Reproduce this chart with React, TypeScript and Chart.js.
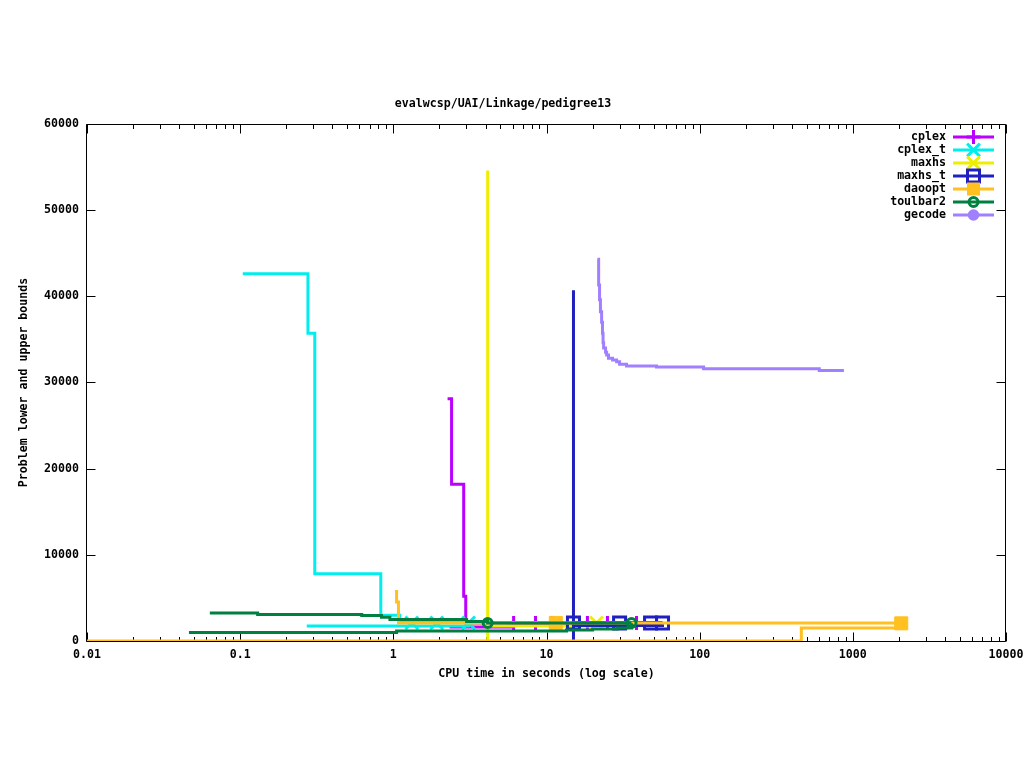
import React, { useEffect, useRef } from 'react';
import { Chart, registerables } from 'chart.js';

Chart.register(...registerables);

// ---------- text ----------
const chartTitle = 'evalwcsp/UAI/Linkage/pedigree13';
const xAxisTitle = 'CPU time in seconds (log scale)';
const yAxisTitle = 'Problem lower and upper bounds';

// ---------- axes ----------
const xTickValues = [0.01, 0.1, 1, 10, 100, 1000, 10000];
const xTickLabels = ['0.01', '0.1', '1', '10', '100', '1000', '10000'];
const xMinorMultipliers = [2, 3, 4, 5, 6, 7, 8, 9];
const yTickValues = [0, 10000, 20000, 30000, 40000, 50000, 60000];
const yTickLabels = ['0', '10000', '20000', '30000', '40000', '50000', '60000'];

// ---------- series ----------
const solverNames = ['cplex', 'cplex_t', 'maxhs', 'maxhs_t', 'daoopt', 'toulbar2', 'gecode'];
const solverColors = ['#bb00ff', '#00eeee', '#eeee00', '#2020c0', '#ffc020', '#008040', '#a080ff'];
const solverMarkers = ['cross', 'crossRot', 'crossRot', 'rectHollow', 'rectFilled', 'circleHollow', 'circleFilled'];

// cplex
const cplexUpperX = [2.26, 2.40, 2.88, 2.97, 38.7];
const cplexUpperY = [28100, 18200, 5200, 2100, 2100];
const cplexLowerX = [2.33, 6.10, 38.7];
const cplexLowerY = [1620, 1850, 2000];
const cplexMarkX = [6.10, 8.48, 10.8, 18.5, 25.0, 38.7];
const cplexMarkY = [2100, 2100, 2100, 2100, 2100, 2100];

// cplex_t
const cplexTUpperX = [0.104, 0.277, 0.307, 0.828, 1.10, 3.10];
const cplexTUpperY = [42600, 35700, 7800, 3000, 2200, 2100];
const cplexTLowerX = [0.272, 3.10];
const cplexTLowerY = [1740, 2000];
const cplexTMarkX = [1.32, 1.92, 3.10];
const cplexTMarkY = [2100, 2100, 2100];

// maxhs
const maxhsUpperX = [4.13, 4.13, 21.2];
const maxhsUpperY = [54600, 2150, 2150];
const maxhsLowerX = [4.13, 4.13, 21.2];
const maxhsLowerY = [0, 1740, 1850];
const maxhsMarkX = [21.2];
const maxhsMarkY = [2100];

// maxhs_t
const maxhsTUpperX = [15.0, 15.0, 57.2];
const maxhsTUpperY = [40700, 2150, 2150];
const maxhsTLowerX = [15.0, 15.0, 57.2];
const maxhsTLowerY = [0, 1800, 1950];
const maxhsTMarkX = [15.0, 30.0, 47.8, 57.2];
const maxhsTMarkY = [2100, 2100, 2100, 2100];

// daoopt
const daooptUpperX = [1.05, 1.05, 1.08, 1.08, 2070];
const daooptUpperY = [5920, 4530, 4530, 2100, 2100];
const daooptLowerX = [0.01, 461, 461, 2070];
const daooptLowerY = [0, 0, 1510, 1510];
const daooptMarkX = [11.5, 2070];
const daooptMarkY = [2100, 2050];

// toulbar2
const toulbarUpperX = [0.0634, 0.130, 0.622, 0.837, 0.95, 3.01, 4.13, 35.9];
const toulbarUpperY = [3250, 3080, 2950, 2750, 2500, 2250, 2100, 2100];
const toulbarLowerX = [0.0463, 1.05, 13.5, 20.0, 29.1, 35.9];
const toulbarLowerY = [1000, 1160, 1277, 1393, 1509, 2050];
const toulbarMarkX = [4.13, 35.9];
const toulbarMarkY = [2100, 2100];

// gecode
const gecodeUpperX = [21.5, 21.9, 22.2, 22.5, 22.9, 23.2, 23.4, 23.6, 24.3, 24.7, 25.4, 27.0, 28.7, 30.0, 33.3, 52.3, 106, 604, 855];
const gecodeUpperY = [44300, 41300, 39600, 38200, 37000, 35700, 34600, 34000, 33500, 33200, 32800, 32600, 32400, 32100, 31900, 31800, 31600, 31400, 31200];
const gecodeLowerX: number[] = [];
const gecodeLowerY: number[] = [];
const gecodeMarkX: number[] = [];
const gecodeMarkY: number[] = [];

const seriesUpperX = [cplexUpperX, cplexTUpperX, maxhsUpperX, maxhsTUpperX, daooptUpperX, toulbarUpperX, gecodeUpperX];
const seriesUpperY = [cplexUpperY, cplexTUpperY, maxhsUpperY, maxhsTUpperY, daooptUpperY, toulbarUpperY, gecodeUpperY];
const seriesLowerX = [cplexLowerX, cplexTLowerX, maxhsLowerX, maxhsTLowerX, daooptLowerX, toulbarLowerX, gecodeLowerX];
const seriesLowerY = [cplexLowerY, cplexTLowerY, maxhsLowerY, maxhsTLowerY, daooptLowerY, toulbarLowerY, gecodeLowerY];
const seriesMarkX = [cplexMarkX, cplexTMarkX, maxhsMarkX, maxhsTMarkX, daooptMarkX, toulbarMarkX, gecodeMarkX];
const seriesMarkY = [cplexMarkY, cplexTMarkY, maxhsMarkY, maxhsTMarkY, daooptMarkY, toulbarMarkY, gecodeMarkY];

// ---------- styling ----------
const FONT_FAMILY = '"DejaVu Sans Mono", "Liberation Mono", monospace';
const FONT_SIZE = 11.6;
const baseFont = { family: FONT_FAMILY, size: FONT_SIZE, weight: 'bold' as const, lineHeight: 1.2 };

const markerStyles: Record<string, { pointStyle: string; radius: number; width: number; filled: boolean }> = {
  cross: { pointStyle: 'cross', radius: 7, width: 3, filled: false },
  crossRot: { pointStyle: 'crossRot', radius: 9, width: 3, filled: false },
  rectHollow: { pointStyle: 'rect', radius: 8.5, width: 3, filled: false },
  rectFilled: { pointStyle: 'rect', radius: 9.2, width: 1, filled: true },
  circleHollow: { pointStyle: 'circle', radius: 4.5, width: 3, filled: false },
  circleFilled: { pointStyle: 'circle', radius: 5.5, width: 1, filled: true },
};

const toData = (xs: number[], ys: number[]) => xs.map((x, i) => ({ x, y: ys[i] }));

function drawLegendMarker(ctx: CanvasRenderingContext2D, kind: string, x: number, y: number, color: string) {
  ctx.save();
  ctx.strokeStyle = color;
  ctx.fillStyle = color;
  ctx.lineWidth = 3;
  ctx.beginPath();
  if (kind === 'cross') {
    ctx.moveTo(x - 7, y); ctx.lineTo(x + 7, y);
    ctx.moveTo(x, y - 7); ctx.lineTo(x, y + 7);
    ctx.stroke();
  } else if (kind === 'crossRot') {
    const d = 6.4;
    ctx.moveTo(x - d, y - d); ctx.lineTo(x + d, y + d);
    ctx.moveTo(x - d, y + d); ctx.lineTo(x + d, y - d);
    ctx.stroke();
  } else if (kind === 'rectHollow') {
    ctx.strokeRect(x - 6, y - 6, 12, 12);
  } else if (kind === 'rectFilled') {
    ctx.fillRect(x - 6.5, y - 6.5, 13, 13);
  } else if (kind === 'circleHollow') {
    ctx.arc(x, y, 4.5, 0, Math.PI * 2);
    ctx.stroke();
  } else if (kind === 'circleFilled') {
    ctx.arc(x, y, 5.8, 0, Math.PI * 2);
    ctx.fill();
  }
  ctx.restore();
}

const framePlugin = {
  id: 'gnuplotFrame',
  beforeDatasetsDraw(chart: any) {
    const { ctx, chartArea } = chart;
    const { left, right, top, bottom } = chartArea;
    const xs = chart.scales.x;
    const ys = chart.scales.y;
    ctx.save();
    ctx.strokeStyle = '#000';
    ctx.lineWidth = 1;
    const L = Math.round(left) - 0.5;
    const R = Math.round(right) - 0.5;
    const T = Math.round(top) + 0.5;
    const B = Math.round(bottom) + 0.5;
    ctx.beginPath();
    ctx.rect(L, T, R - L, B - T);
    yTickValues.forEach((v) => {
      const py = Math.round(ys.getPixelForValue(v)) + 0.5;
      ctx.moveTo(L, py); ctx.lineTo(L + 9, py);
      ctx.moveTo(R, py); ctx.lineTo(R - 9, py);
    });
    xTickValues.forEach((v) => {
      const px = Math.round(xs.getPixelForValue(v)) + 0.5;
      ctx.moveTo(px, B); ctx.lineTo(px, B - 9);
      ctx.moveTo(px, T); ctx.lineTo(px, T + 9);
    });
    xTickValues.slice(0, -1).forEach((d) => {
      xMinorMultipliers.forEach((m) => {
        const px = Math.round(xs.getPixelForValue(d * m)) + 0.5;
        ctx.moveTo(px, B); ctx.lineTo(px, B - 4.5);
        ctx.moveTo(px, T); ctx.lineTo(px, T + 4.5);
      });
    });
    ctx.stroke();
    ctx.restore();
  },
};

const legendPlugin = {
  id: 'gnuplotLegend',
  afterDraw(chart: any) {
    const { ctx } = chart;
    const textRight = 946;
    const lineStart = 953;
    const lineEnd = 994;
    const firstY = 137;
    const step = 13;
    ctx.save();
    ctx.font = `bold ${FONT_SIZE}px ${FONT_FAMILY}`;
    ctx.textAlign = 'right';
    ctx.textBaseline = 'middle';
    solverNames.forEach((name, i) => {
      const y = firstY + i * step;
      ctx.fillStyle = '#000';
      ctx.fillText(name, textRight, y);
      ctx.strokeStyle = solverColors[i];
      ctx.lineWidth = 3;
      ctx.beginPath();
      ctx.moveTo(lineStart, y);
      ctx.lineTo(lineEnd, y);
      ctx.stroke();
      drawLegendMarker(ctx, solverMarkers[i], (lineStart + lineEnd) / 2, y, solverColors[i]);
    });
    ctx.restore();
  },
};

export default function App() {
  const canvasRef = useRef<HTMLCanvasElement | null>(null);

  useEffect(() => {
    if (!canvasRef.current) return;
    const datasets: any[] = [];
    solverNames.forEach((name, i) => {
      const color = solverColors[i];
      const base = 100 - i * 10;
      const lineCommon = {
        borderColor: color,
        backgroundColor: color,
        borderWidth: 3,
        pointRadius: 0,
        pointHoverRadius: 0,
        stepped: true,
        fill: false,
        tension: 0,
        borderJoinStyle: 'miter',
        borderCapStyle: 'butt',
      };
      if (seriesUpperX[i].length) {
        datasets.push({ ...lineCommon, label: name, data: toData(seriesUpperX[i], seriesUpperY[i]), order: base });
      }
      if (seriesLowerX[i].length) {
        datasets.push({ ...lineCommon, label: name + ' (lower)', data: toData(seriesLowerX[i], seriesLowerY[i]), order: base });
      }
      if (seriesMarkX[i].length) {
        const ms = markerStyles[solverMarkers[i]];
        datasets.push({
          label: name + ' (points)',
          data: toData(seriesMarkX[i], seriesMarkY[i]),
          showLine: false,
          borderColor: color,
          backgroundColor: color,
          pointStyle: ms.pointStyle,
          pointRadius: ms.radius,
          pointHoverRadius: ms.radius,
          pointBorderWidth: ms.width,
          pointBorderColor: color,
          pointBackgroundColor: ms.filled ? color : 'rgba(0,0,0,0)',
          order: base - 1,
        });
      }
    });

    const chart = new Chart(canvasRef.current, {
      type: 'line',
      data: { datasets },
      options: {
        responsive: false,
        maintainAspectRatio: false,
        animation: false,
        devicePixelRatio: 1,
        events: [],
        layout: { padding: { left: 0, right: 18, top: 0, bottom: 67 } },
        plugins: {
          legend: { display: false },
          tooltip: { enabled: false },
          title: {
            display: true,
            text: chartTitle,
            color: '#000',
            font: baseFont,
            padding: { top: 97, bottom: 13 },
          },
        },
        scales: {
          x: {
            type: 'logarithmic',
            min: 0.01,
            max: 10000,
            grid: { display: false, drawTicks: false },
            border: { display: false },
            afterBuildTicks: (scale: any) => {
              scale.ticks = xTickValues.map((v) => ({ value: v }));
            },
            afterFit: (scale: any) => {
              scale.height = 60;
              scale.paddingLeft = 0;
              scale.paddingRight = 0;
            },
            ticks: {
              autoSkip: false,
              maxRotation: 0,
              minRotation: 0,
              padding: 7,
              color: '#000',
              font: baseFont,
              callback: (v: any) => {
                const idx = xTickValues.indexOf(Number(v));
                return idx >= 0 ? xTickLabels[idx] : '';
              },
            },
            title: {
              display: true,
              text: xAxisTitle,
              color: '#000',
              font: baseFont,
              padding: { top: 0, bottom: 20 },
            },
          },
          y: {
            type: 'linear',
            min: 0,
            max: 60000,
            grid: { display: false, drawTicks: false },
            border: { display: false },
            afterBuildTicks: (scale: any) => {
              scale.ticks = yTickValues.map((v) => ({ value: v }));
            },
            afterFit: (scale: any) => {
              scale.width = 87;
              scale.paddingTop = 0;
              scale.paddingBottom = 0;
            },
            ticks: {
              autoSkip: false,
              padding: 8,
              color: '#000',
              font: baseFont,
              callback: (v: any) => {
                const idx = yTickValues.indexOf(Number(v));
                return idx >= 0 ? yTickLabels[idx] : '';
              },
            },
            title: {
              display: true,
              text: yAxisTitle,
              color: '#000',
              font: baseFont,
              padding: { top: 17, bottom: 0 },
            },
          },
        },
      } as any,
      plugins: [framePlugin, legendPlugin],
    });

    return () => {
      chart.destroy();
    };
  }, []);

  return (
    <div style={{ position: 'absolute', left: 0, top: 0, width: 1024, height: 768, background: '#fff' }}>
      <canvas ref={canvasRef} width={1024} height={768} style={{ display: 'block' }} />
    </div>
  );
}
